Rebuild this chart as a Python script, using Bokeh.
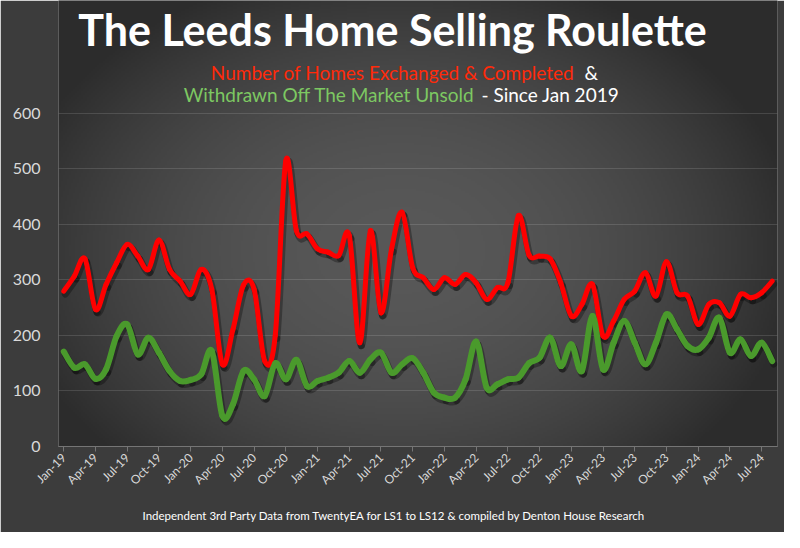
import math
import numpy as np
from bokeh.plotting import figure
from bokeh.models import Range1d, Label, FixedTicker, ColumnDataSource, Title
from bokeh.embed import file_html
from bokeh.resources import INLINE

# ---- data ----
month_index = list(range(68))  # Jan-19 .. Aug-24
tick_labels = ["Jan-19", "Apr-19", "Jul-19", "Oct-19", "Jan-20", "Apr-20", "Jul-20", "Oct-20",
               "Jan-21", "Apr-21", "Jul-21", "Oct-21", "Jan-22", "Apr-22", "Jul-22", "Oct-22",
               "Jan-23", "Apr-23", "Jul-23", "Oct-23", "Jan-24", "Apr-24", "Jul-24"]
completed = [280, 307, 338, 247, 292, 331, 364, 343, 319, 372, 319, 298,
             274, 319, 283, 148, 211, 291, 283, 154, 200, 515, 389, 383,
             356, 350, 344, 380, 187, 389, 241, 356, 422, 322, 304, 283,
             304, 292, 310, 295, 265, 286, 295, 416, 345, 343, 338, 295,
             235, 256, 292, 199, 226, 265, 280, 313, 271, 333, 277, 271,
             220, 256, 259, 235, 274, 268, 277, 298]
withdrawn = [171, 142, 148, 122, 139, 199, 220, 166, 196, 169, 136, 118,
             120, 130, 172, 55, 76, 136, 121, 91, 150, 121, 156, 109,
             118, 124, 133, 154, 133, 157, 169, 133, 148, 159, 133, 97,
             88, 88, 121, 189, 106, 112, 121, 124, 150, 160, 196, 145,
             184, 136, 235, 139, 187, 226, 187, 148, 187, 238, 211, 181,
             175, 196, 232, 169, 193, 163, 187, 154]
y_ticks = [0, 100, 200, 300, 400, 500, 600]

BG = "#3c3c3c"
FONT = "Lato"


def smooth_segments(xs, ys):
    """Bezier segments through the data points (Excel-style smoothed line)."""
    n = len(xs)
    d = dict(x0=[], y0=[], x1=[], y1=[], cx0=[], cy0=[], cx1=[], cy1=[])
    for i in range(n - 1):
        xa, ya = xs[max(i - 1, 0)], ys[max(i - 1, 0)]
        xb, yb = xs[i], ys[i]
        xc, yc = xs[i + 1], ys[i + 1]
        xd, yd = xs[min(i + 2, n - 1)], ys[min(i + 2, n - 1)]
        d["x0"].append(xb); d["y0"].append(yb)
        d["x1"].append(xc); d["y1"].append(yc)
        d["cx0"].append(xb + (xc - xa) / 6); d["cy0"].append(yb + (yc - ya) / 6)
        d["cx1"].append(xc - (xd - xb) / 6); d["cy1"].append(yc - (yd - yb) / 6)
    return ColumnDataSource(d)


red_src = smooth_segments(month_index, completed)
green_src = smooth_segments(month_index, withdrawn)

# frame spans from canvas top down to the zero line; the value axis tops out at 600,
# the headroom above it holds the titles
p = figure(width=784, height=532, x_range=Range1d(-0.5, 67.5), y_range=Range1d(0, 803.6),
           output_backend="svg", toolbar_location=None,
           min_border_left=58, min_border_right=7, min_border_top=0, min_border_bottom=86)
p.background_fill_color = BG
p.border_fill_color = BG
p.outline_line_color = None

# soft radial background shading
W, H = 360, 223
gx = (np.arange(W) + 0.5) * 719 / W + 58
gy = 446 - (np.arange(H) + 0.5) * 446 / H
GX, GY = np.meshgrid(gx, gy)
d2 = ((GX - 400) / 401) ** 2 + ((GY - 250) / 291) ** 2
v = (88 - 44 * np.minimum(d2, 1)).astype(np.uint32)
img = ((255 << 24) | (v << 16) | (v << 8) | v).astype(np.uint32)
p.image_rgba(image=[img], x=-0.5, y=0, dw=68, dh=803.6, level="image")

# drop shadow drawn through slightly shifted ranges
p.extra_x_ranges = {"sh": Range1d(-0.5 - 0.15, 67.5 - 0.15)}
p.extra_y_ranges = {"sh": Range1d(5.4, 803.6 + 5.4)}
for s in (red_src, green_src):
    p.bezier("x0", "y0", "x1", "y1", "cx0", "cy0", "cx1", "cy1", source=s,
             line_color="black", line_alpha=0.3, line_width=7, line_cap="round",
             x_range_name="sh", y_range_name="sh")

p.bezier("x0", "y0", "x1", "y1", "cx0", "cy0", "cx1", "cy1", source=red_src,
         line_color="#FF0000", line_width=5, line_cap="round")
p.bezier("x0", "y0", "x1", "y1", "cx0", "cy0", "cx1", "cy1", source=green_src,
         line_color="#4A9A2C", line_width=6, line_cap="round")

# axes
p.xgrid.grid_line_color = None
p.ygrid.grid_line_color = "white"
p.ygrid.grid_line_alpha = 0.13
p.ygrid.grid_line_width = 1

p.yaxis.ticker = FixedTicker(ticks=y_ticks)
p.yaxis.axis_line_color = None
p.yaxis.major_tick_line_color = None
p.yaxis.minor_tick_line_color = None
p.yaxis.major_label_text_color = "#D9D9D9"
p.yaxis.major_label_text_font = FONT
p.yaxis.major_label_text_font_size = "16px"
p.yaxis.major_label_standoff = 12

xt = list(range(0, 67, 3))
p.xaxis.ticker = FixedTicker(ticks=xt)
p.xaxis.major_label_overrides = {t: lab for t, lab in zip(xt, tick_labels)}
p.xaxis.major_label_orientation = math.pi / 4
p.xaxis.axis_line_color = "#757575"
p.xaxis.major_tick_line_color = "#757575"
p.xaxis.major_tick_out = 5
p.xaxis.major_tick_in = 0
p.xaxis.minor_tick_line_color = None
p.xaxis.major_label_text_color = "#D9D9D9"
p.xaxis.major_label_text_font = FONT
p.xaxis.major_label_text_font_size = "12px"
p.xaxis.major_label_standoff = 4

footer = Title(text="Independent 3rd Party Data from TwentyEA for LS1 to LS12 & compiled by Denton House Research",
               align="left", offset=84, vertical_align="bottom", standoff=22,
               text_font=FONT, text_font_size="11.5px", text_font_style="normal", text_color="white")
p.add_layout(footer, "below")


def lab(x, y, text, color, size, align="left", bold=False):
    p.add_layout(Label(x=x, y=y, x_units="screen", y_units="screen", text=text,
                       text_color=color, text_font=FONT, text_font_size=size,
                       text_align=align, text_baseline="alphabetic",
                       text_font_style="bold" if bold else "normal"))


lab(334, 417, "The Leeds Home Selling Roulette", "white", "43px", "center", True)
lab(516, 374, "Number of Homes Exchanged & Completed", "#FF2A0A", "19px", "right")
lab(526, 374, "&", "white", "19px", "left")
lab(416, 352, "Withdrawn Off The Market Unsold", "#7DC862", "19px", "right")
lab(423, 352, "- Since Jan 2019", "white", "19px", "left")

open("out.html", "w").write(file_html(p, INLINE))
